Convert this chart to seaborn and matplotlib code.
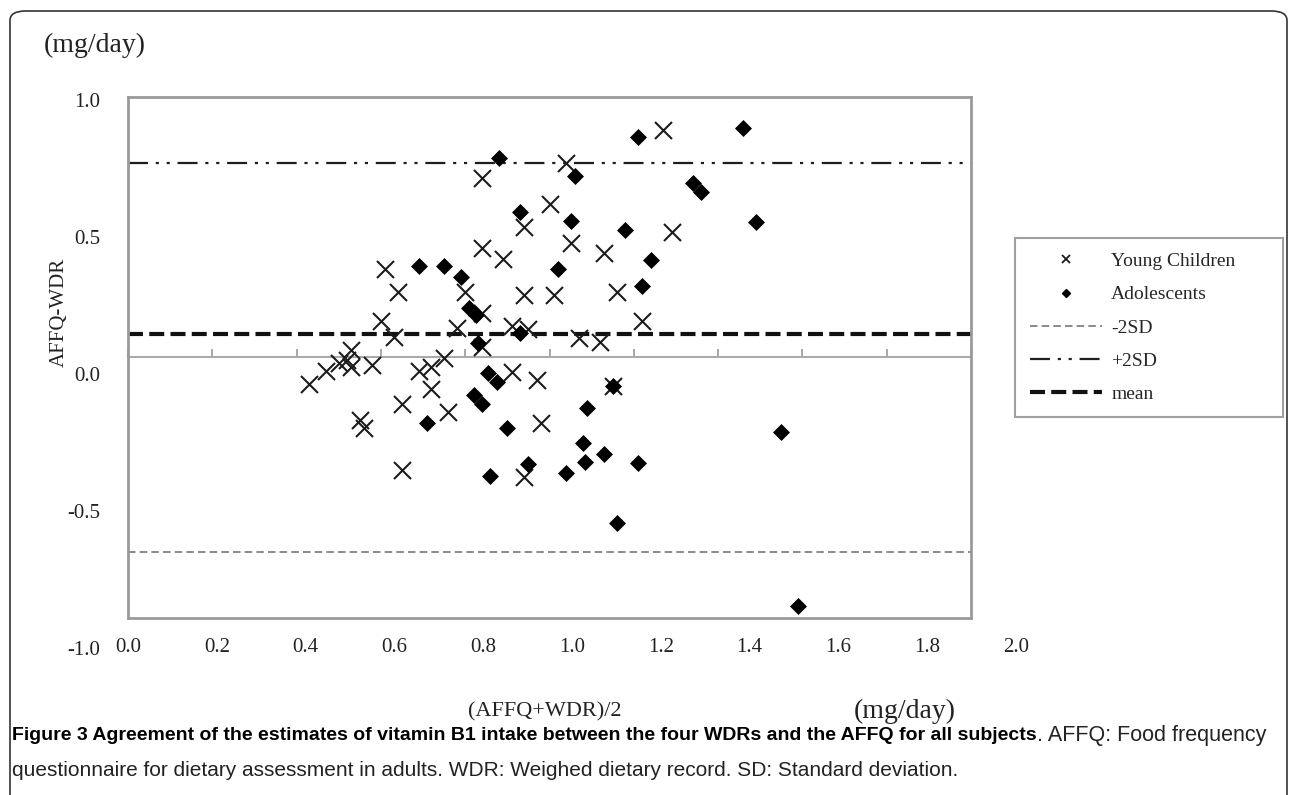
import matplotlib
matplotlib.use("Agg")
import pandas as pd
import matplotlib.pyplot as plt
import seaborn as sns
from matplotlib.lines import Line2D
from matplotlib.patches import FancyBboxPatch

# Young Children: mean of AFFQ and WDR (x) and AFFQ-WDR (y), mg/day
child_mean = [0.43, 0.47, 0.50, 0.53, 0.52, 0.53, 0.58, 0.55, 0.56, 0.65, 0.65, 0.60,
              0.63, 0.61, 0.64, 0.69, 0.72, 0.75, 0.72, 0.76, 0.78, 0.80, 0.84, 0.84,
              0.89, 0.84, 0.84, 0.91, 0.97, 0.98, 0.94, 0.91, 0.95, 0.94, 0.94, 1.00,
              1.01, 1.04, 1.05, 1.07, 1.12, 1.13, 1.16, 1.22, 1.29, 1.27, 1.15]
child_diff = [-0.10, -0.05, -0.02, 0.03, -0.01, -0.035, -0.03, -0.24, -0.27, -0.18, -0.43, 0.14,
              0.08, 0.34, 0.25, -0.05, -0.035, 0.00, -0.12, -0.21, 0.115, 0.25, 0.69, 0.42,
              0.38, 0.17, 0.04, -0.055, -0.085, -0.25, -0.46, 0.12, 0.11, 0.50, 0.24, 0.59,
              0.24, 0.745, 0.44, 0.075, 0.06, 0.40, 0.25, 0.14, 0.48, 0.875, -0.11]

# Adolescents
adol_mean = [0.69, 0.75, 0.79, 0.81, 0.825, 0.83, 0.71, 0.82, 0.84, 0.855, 0.875, 0.90, 0.86,
             0.88, 0.93, 0.93, 0.95, 1.02, 1.05, 1.06, 1.04, 1.08, 1.085, 1.09, 1.13, 1.15,
             1.16, 1.18, 1.21, 1.21, 1.22, 1.24, 1.34, 1.36, 1.46, 1.49, 1.55, 1.59]
adol_diff = [0.35, 0.35, 0.31, 0.19, 0.165, 0.055, -0.25, -0.145, -0.18, -0.06, -0.095, -0.27, -0.455,
             0.765, 0.56, 0.095, -0.41, 0.34, 0.525, 0.695, -0.445, -0.33, -0.40, -0.195, -0.37, -0.11,
             -0.635, 0.49, -0.405, 0.845, 0.275, 0.375, 0.67, 0.635, 0.88, 0.52, -0.285, -0.955]

diff_mean = 0.09
sd_upper = 0.745
sd_lower = -0.745

x_ticks = [0.0, 0.2, 0.4, 0.6, 0.8, 1.0, 1.2, 1.4, 1.6, 1.8, 2.0]
y_ticks = [-1.0, -0.5, 0.0, 0.5, 1.0]
legend_labels = ["Young Children", "Adolescents", "-2SD", "+2SD", "mean"]

caption_bold = ("Figure 3 Agreement of the estimates of vitamin B1 intake between "
                "the four WDRs and the AFFQ for all subjects")
caption_rest1 = ". AFFQ: Food frequency"
caption_line2 = ("questionnaire for dietary assessment in adults. WDR: Weighed dietary record. "
                 "SD: Standard deviation.")

sns.set_style("white")
plt.rcParams['font.family'] = ['Liberation Serif', 'DejaVu Serif']
plt.rcParams['axes.unicode_minus'] = False
cap_family = ['Liberation Sans', 'DejaVu Sans']

W, H = 1290, 795
fig = plt.figure(figsize=(W / 100, H / 100), dpi=100)
ax = fig.add_axes([128 / W, 1 - 618 / H, (971 - 128) / W, (618 - 97) / H])

df_child = pd.DataFrame({"x": child_mean, "y": child_diff})
df_adol = pd.DataFrame({"x": adol_mean, "y": adol_diff})

# reference lines
ax.axhline(sd_upper, color='#1e1e1e', lw=1.6, ls=(0, (9, 3.5, 1.4, 3.5, 1.4, 3.5)), zorder=2)
ax.axhline(diff_mean, color='#111111', lw=3.0, ls=(0, (3.6, 1.5)), zorder=2)
ax.axhline(sd_lower, color='#777777', lw=1.2, ls=(0, (4.5, 2.5)), zorder=2)

sns.scatterplot(data=df_child, x="x", y="y", marker="x", s=150, color="#1c1c1c",
                linewidth=1.5, ax=ax, zorder=3, legend=False)
sns.scatterplot(data=df_adol, x="x", y="y", marker="D", s=75, color="black",
                edgecolor="black", linewidth=0, ax=ax, zorder=4, legend=False)

ax.set_xlim(0, 2)
ax.set_ylim(-1, 1)
ax.set_xticks(x_ticks)
ax.set_yticks(y_ticks)
ax.set_xlabel("")
ax.set_ylabel("")
ax.tick_params(axis='x', length=0, labelbottom=False)
ax.tick_params(axis='y', direction='out', length=4, width=1.2, color='#999999', labelleft=False)
for sp in ax.spines.values():
    sp.set_color('#9a9a9a')
    sp.set_linewidth(2)

# axis crossing at y = 0 with tick marks
sec = ax.secondary_xaxis(0.5)
sec.set_xticks(x_ticks)
sec.tick_params(axis='x', direction='out', length=6, width=1.2, color='#999999',
                labeltop=False, labelbottom=False)
for sp in sec.spines.values():
    sp.set_color('#aaaaaa')
    sp.set_linewidth(1.5)

# tick labels sit on a slightly wider scale than the plot area, as in the original
xlab = fig.add_axes([128 / W, 1 - 638 / H, (1016 - 128) / W, 0.0001])
xlab.set_xlim(0, 2)
xlab.set_xticks(x_ticks)
xlab.set_xticklabels([f"{v:.1f}" for v in x_ticks])
xlab.tick_params(axis='x', length=0, pad=0, labelsize=15, colors='#222222')
xlab.set_yticks([])
xlab.patch.set_visible(False)
for sp in xlab.spines.values():
    sp.set_visible(False)

ylab = fig.add_axes([128 / W, 1 - 648 / H, 0.0001, (648 - 100) / H])
ylab.set_ylim(-1, 1)
ylab.set_yticks(y_ticks)
ylab.set_yticklabels([f"{v:.1f}" for v in y_ticks])
ylab.tick_params(axis='y', length=0, pad=20, labelsize=15, colors='#222222')
ylab.set_xticks([])
ylab.patch.set_visible(False)
for sp in ylab.spines.values():
    sp.set_visible(False)

fig.text(545 / W, 1 - 712 / H, "(AFFQ+WDR)/2", fontsize=16, ha='center', va='center', color='#222222')
fig.text(59 / W, 1 - 312 / H, "AFFQ-WDR", fontsize=15, rotation=90, ha='center', va='center',
         color='#222222')

fig.text(95 / W, 1 - 45 / H, "(mg/day)", fontsize=20, ha='center', va='center', color='#222222')
fig.text(905 / W, 1 - 711 / H, "(mg/day)", fontsize=20, ha='center', va='center', color='#222222')

handles = [
    Line2D([], [], marker='x', ls='none', color='#1c1c1c', ms=6, mew=1.3),
    Line2D([], [], marker='D', ls='none', color='black', ms=4),
    Line2D([], [], color='#777777', lw=1.2, ls=(0, (4.5, 2.5))),
    Line2D([], [], color='#1e1e1e', lw=1.6, ls=(0, (9, 3.5, 1.4, 3.5, 1.4, 3.5))),
    Line2D([], [], color='#111111', lw=3.0, ls=(0, (3.6, 1.5))),
]
leg = fig.legend(handles, legend_labels, loc='upper left',
                 bbox_to_anchor=(1015 / W, 1 - 420 / H, 268 / W, 182 / H),
                 mode='expand', frameon=True, fancybox=False, edgecolor='#888888',
                 fontsize=14, handlelength=3.7, labelspacing=0.8, borderpad=0.75,
                 handletextpad=0.5, borderaxespad=0)
leg.get_frame().set_linewidth(1.5)

# outer rounded frame
frame = FancyBboxPatch((10 / W, -0.1), (1287 - 10) / W, 1 - 11 / H + 0.1,
                       boxstyle="round,pad=0,rounding_size=0.012", transform=fig.transFigure,
                       fill=False, ec='#333333', lw=1.2)
fig.patches.append(frame)

# caption
t1 = fig.text(12 / W, 1 - 735 / H, caption_bold, fontsize=14, fontweight='bold',
              family=cap_family, va='center', ha='left', color='black')
fig.canvas.draw()
bb = t1.get_window_extent()
fig.text(bb.x1 / W, 1 - 735 / H, caption_rest1, fontsize=15.5, family=cap_family,
         va='center', ha='left', color='#222222')
fig.text(12 / W, 1 - 770 / H, caption_line2, fontsize=15, family=cap_family,
         va='center', ha='left', color='#222222')

fig.savefig("out.png", dpi=100)
